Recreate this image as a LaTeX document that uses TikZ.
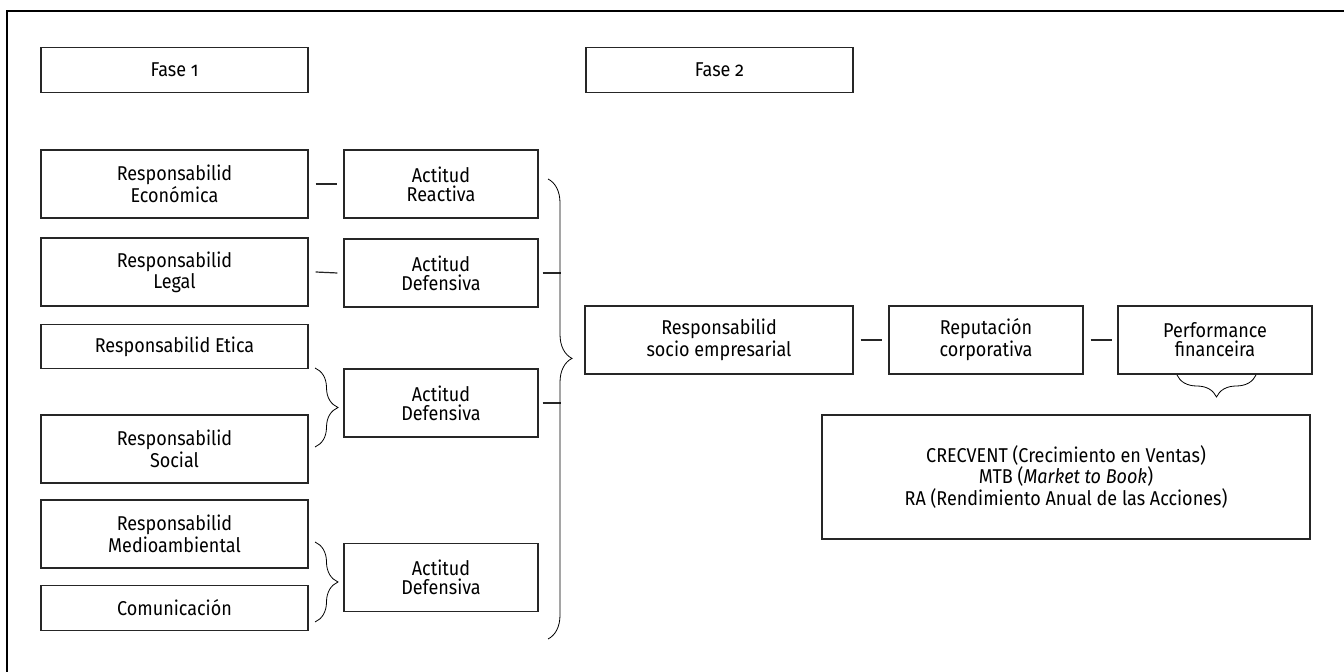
\documentclass[tikz,border=0pt]{standalone}
\usepackage{fontspec}
\setmainfont{Fira Sans}[Numbers=OldStyle,FakeStretch=0.9]
\usetikzlibrary{decorations.pathreplacing}

\begin{document}
\begin{tikzpicture}[x=0.5pt,y=-0.5pt,
    rbox/.style={draw=black!85,line width=0.6pt,align=center,inner sep=0pt,
      font=\fontsize{10}{9.4}\selectfont},
    wide/.style={rbox,minimum width=133.5pt},
    narrow/.style={rbox,minimum width=97pt},
    tall/.style={minimum height=34pt},
    short/.style={minimum height=22.3pt},
    curly/.style={draw=black,line width=0.4pt,decorate,
      decoration={brace,amplitude=#1}},
    link/.style={draw=black!85,line width=0.6pt}]
            \useasboundingbox (0,0) rectangle (1344,672);
            \draw[line width=0.6pt] (7,672) -- (7,11) -- (1344,11);
            % Fase 1
            \node[wide,short] (fase1) at (174.5,70) {Fase 1};
            \node[wide,tall] (econ) at (174.5,184) {Responsabilid\\Económica};
            \node[wide,tall] (legal) at (174.5,272) {Responsabilid\\Legal};
            \node[wide,short] (etica) at (174.5,346.5) {Responsabilid Etica};
            \node[wide,tall] (social) at (174.5,449) {Responsabilid\\Social};
            \node[wide,tall] (medio) at (174.5,534) {Responsabilid\\Medioambiental};
            \node[wide,short] (comu) at (174.5,608) {Comunicación};
            \node[narrow,tall] (reac) at (441,184) {Actitud\\Reactiva};
            \node[narrow,tall] (defa) at (441,273) {Actitud\\Defensiva};
            \node[narrow,tall] (defb) at (441,403) {Actitud\\Defensiva};
            \node[narrow,tall] (defc) at (441,577.5) {Actitud\\Defensiva};
            % Fase 2
            \node[wide,short] (fase2) at (719.5,70) {Fase 2};
            \node[rbox,tall,minimum width=134pt] (socio) at (719,340) {Responsabilid\\socio empresarial};
            \node[narrow,tall] (repu) at (986,340) {Reputación\\corporativa};
            \node[narrow,tall] (perf) at (1215,340) {Performance\\financeira};
            \node[rbox,minimum width=244pt,minimum height=62pt] (crec) at (1066,477)
              {CRECVENT (Crecimiento en Ventas)\\MTB (\textit{Market to Book})\\RA (Rendimiento Anual de las Acciones)};
            \coordinate (B1a) at (315,368);
            \coordinate (B1b) at (315,447);
            \coordinate (B2a) at (315,542);
            \coordinate (B2b) at (315,622);
            \coordinate (Ga) at (548,179);
            \coordinate (Gb) at (548,639);
            \coordinate (Pa) at (1256,375);
            \coordinate (Pb) at (1177,375);
            \coordinate (ja) at (561,273);
            \coordinate (jb) at (561,403);
            \draw[link] ([xshift=3.5pt]econ.east) -- ([xshift=-3pt]reac.west);
            \draw[link] ([xshift=3.5pt]legal.east) -- ([xshift=-3pt]defa.west);
            \draw[link] ([xshift=3.5pt]socio.east) -- ([xshift=-3pt]repu.west);
            \draw[link] ([xshift=3.5pt]repu.east) -- ([xshift=-2.5pt]perf.west);
            \draw[link] ([xshift=2pt]defa.east) -- (ja);
            \draw[link] ([xshift=2pt]defb.east) -- (jb);
            \draw[curly=11.5pt] (B1a) -- (B1b);
            \draw[curly=11.5pt] (B2a) -- (B2b);
            \draw[curly=12pt,decoration={aspect=0.39}] (Ga) -- (Gb);
            \draw[curly=11pt] (Pa) -- (Pb);
    \end{tikzpicture}
\end{document}
